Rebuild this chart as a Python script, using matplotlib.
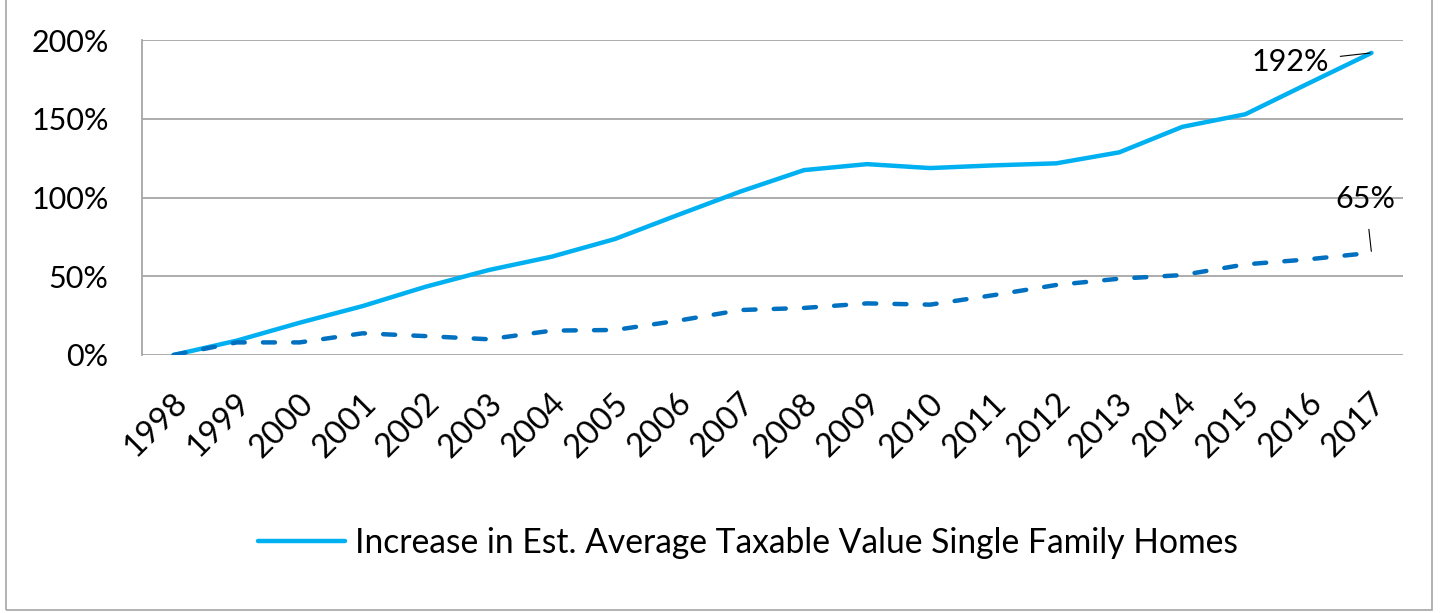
import matplotlib
matplotlib.use("Agg")
import matplotlib.pyplot as plt
from matplotlib.patches import Rectangle
from matplotlib.transforms import ScaledTranslation

years = [str(y) for y in range(1998, 2018)]
taxable_value = [0, 9.1, 20.5, 31.1, 43.4, 54.0, 62.5, 73.7, 89.0, 104.0,
                 117.5, 121.3, 118.8, 120.5, 121.8, 128.8, 145.0, 153.0, 172.6, 192.0]
second_series = [0, 8.0, 8.0, 13.8, 12.0, 10.0, 15.5, 15.9, 21.8, 28.6,
                 29.9, 32.8, 32.0, 38.0, 44.5, 48.5, 50.8, 57.6, 60.8, 65.0]
yticks = [0, 50, 100, 150, 200]
ytick_labels = ["0%", "50%", "100%", "150%", "200%"]
legend_label = "Increase in Est. Average Taxable Value Single Family Homes"

plt.rcParams['font.family'] = ['Lato', 'DejaVu Sans']
FS = 22

fig = plt.figure(figsize=(14.4, 6.13), dpi=100)
ax = fig.add_axes([142/1440, 1-355/613, (1403-142)/1440, (355-40.3)/613])

x = list(range(len(years)))
solid, = ax.plot(x, taxable_value, color='#00B0F0', lw=3.2, solid_capstyle='round',
                 solid_joinstyle='round', label=legend_label, zorder=3)
ax.plot(x, second_series, color='#0070C0', lw=3.2, linestyle=(0, (2.7, 4.1)),
        dash_capstyle='round', zorder=3)

ax.set_xlim(-0.5, len(years)-0.5)
ax.set_ylim(0, 200)
ax.set_yticks(yticks)
ax.set_yticklabels(ytick_labels, fontsize=FS)
ax.set_xticks(x)
ax.set_xticklabels(years, fontsize=23.5, rotation=45, ha='right', va='center',
                   rotation_mode='anchor')
ax.tick_params(axis='both', length=0)
ax.tick_params(axis='y', pad=24)
ax.tick_params(axis='x', pad=22)
off = ScaledTranslation(9/100, -13/100, fig.dpi_scale_trans)
for lab in ax.get_xticklabels():
    lab.set_transform(lab.get_transform() + off)
ax.grid(axis='y', color='#A6A6A6', lw=1.3)
ax.set_axisbelow(True)
for s in ['top', 'right', 'bottom']:
    ax.spines[s].set_visible(False)
ax.spines['left'].set_color('#A6A6A6')
ax.spines['left'].set_linewidth(1.3)

last = len(years) - 1
ax.annotate(f"{taxable_value[-1]:.0f}%", xy=(last, taxable_value[-1]),
            xytext=(-81, -9), textcoords='offset pixels', ha='center', va='center',
            fontsize=FS, arrowprops=dict(arrowstyle='-', color='black', lw=0.8,
                                         shrinkA=6, shrinkB=1))
ax.annotate(f"{second_series[-1]:.0f}%", xy=(last, second_series[-1]),
            xytext=(-6, 54), textcoords='offset pixels', ha='center', va='center',
            fontsize=FS, arrowprops=dict(arrowstyle='-', color='black', lw=0.8,
                                         shrinkA=10, shrinkB=1))

fig.legend(handles=[solid], labels=[legend_label], loc='center',
           bbox_to_anchor=(748/1440, 1-543/613), frameon=False, fontsize=24.2,
           handlelength=2.6, handletextpad=0.3)

fig.patches.append(Rectangle((6/1440, 3/613), 1426/1440, 1.2, transform=fig.transFigure,
                             fill=False, edgecolor='#A6A6A6', lw=1.2))

fig.savefig("out.png", dpi=100)
